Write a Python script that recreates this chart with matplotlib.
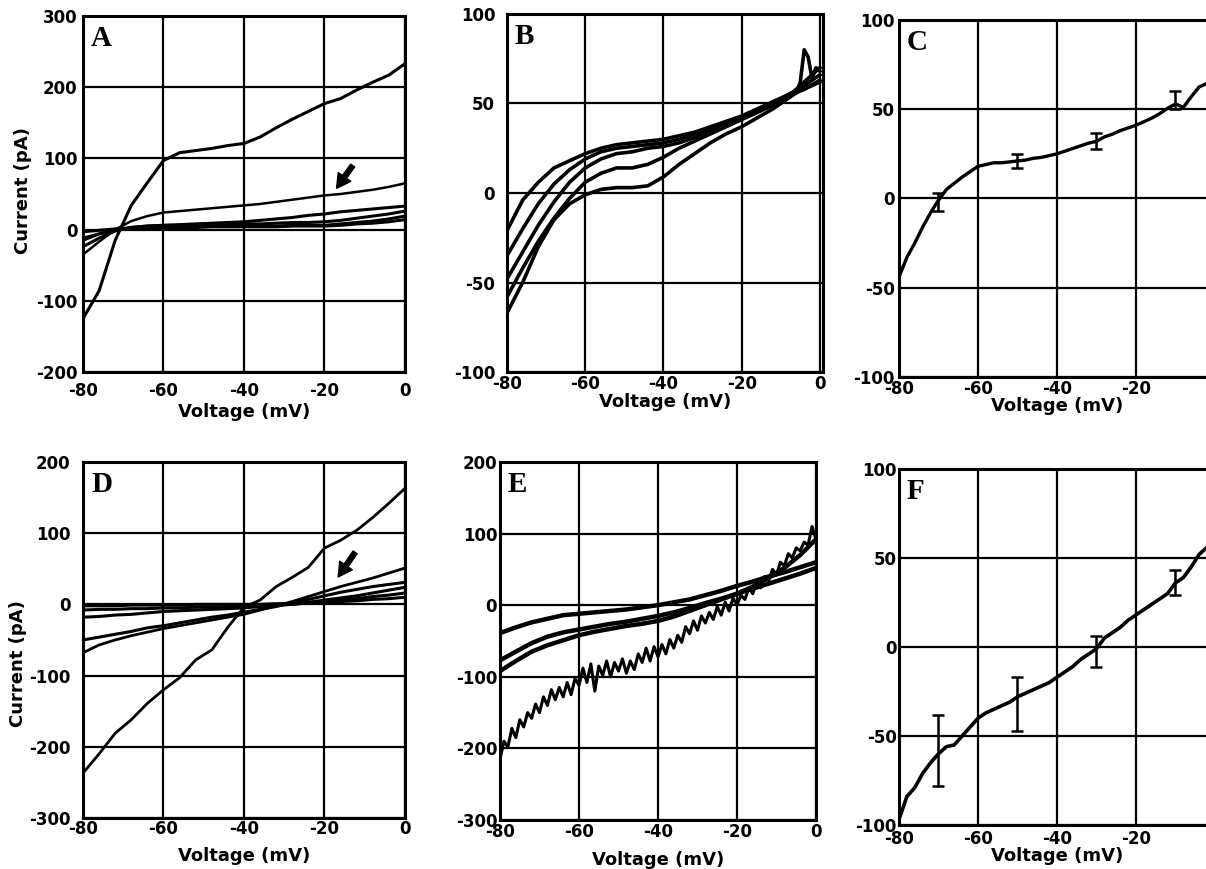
import matplotlib
matplotlib.use('Agg')
import matplotlib.pyplot as plt

plt.rcParams['font.family'] = ['DejaVu Sans']
plt.rcParams['font.weight'] = 'bold'
plt.rcParams['axes.labelweight'] = 'bold'
plt.rcParams['axes.unicode_minus'] = False

# voltage samples (mV)
v4 = [-80, -76, -72, -68, -64, -60, -56, -52, -48, -44, -40,
      -36, -32, -28, -24, -20, -16, -12, -8, -4, 0]
v2 = [-80, -78, -76, -74, -72, -70, -68, -66, -64, -62, -60, -58, -56, -54,
      -52, -50, -48, -46, -44, -42, -40, -38, -36, -34, -32, -30, -28, -26,
      -24, -22, -20, -18, -16, -14, -12, -10, -8, -6, -4, -2, 0]
v1 = [-80, -79, -78, -77, -76, -75, -74, -73, -72, -71, -70, -69, -68, -67,
      -66, -65, -64, -63, -62, -61, -60, -59, -58, -57, -56, -55, -54, -53,
      -52, -51, -50, -49, -48, -47, -46, -45, -44, -43, -42, -41, -40, -39,
      -38, -37, -36, -35, -34, -33, -32, -31, -30, -29, -28, -27, -26, -25,
      -24, -23, -22, -21, -20, -19, -18, -17, -16, -15, -14, -13, -12, -11,
      -10, -9, -8, -7, -6, -5, -4, -3, -2, -1, 0]
volt_ticks = [-80, -60, -40, -20, 0]
volt_labels = ['-80', '-60', '-40', '-20', '0']
volt_labels_cut = ['-80', '-60', '-40', '-20', '']

# A: currents (pA) on v4
a_big = [-125, -86, -15, 34, 66, 97, 108, 111, 114, 118, 121,
         130, 143, 155, 166, 177, 184, 196, 207, 217, 233]
a_arrow = [-35, -17, 0, 12, 19, 24, 26, 28, 30, 32, 34,
           36, 39, 42, 45, 48, 50, 53, 56, 60, 65]
a_3 = [-15, -6, 0, 3, 5, 6, 7, 8, 9, 10, 11,
       13, 15, 17, 20, 22, 25, 27, 29, 31, 33]
a_4 = [-24, -12, -2, 3, 5, 6, 6, 7, 7, 7, 8,
       8, 9, 10, 10, 11, 13, 16, 19, 22, 26]
a_5 = [-12, -6, -1, 2, 3, 4, 4, 4, 5, 5, 5,
       5, 5, 6, 6, 6, 8, 10, 12, 15, 19]
a_6 = [-3, -1, 1, 2, 3, 3, 3, 3, 4, 4, 4,
       4, 4, 5, 5, 5, 6, 8, 9, 11, 14]

# B: currents (pA) on v4
b_1 = [-21, -4, 6, 14, 18, 22, 25, 27, 28, 29, 30,
       32, 34, 37, 40, 43, 47, 51, 55, 58, 62]
b_2 = [-35, -20, -6, 5, 13, 19, 23, 25, 26, 27, 28,
       30, 33, 36, 39, 42, 46, 50, 54, 58, 63]
b_3 = [-48, -33, -18, -5, 6, 14, 19, 22, 23, 25, 26,
       28, 31, 35, 39, 42, 46, 50, 55, 60, 66]
b_4 = [-58, -42, -27, -14, -3, 6, 11, 14, 14, 16, 20,
       25, 29, 33, 37, 41, 45, 49, 54, 62, 70]
b_5_v = [-80, -76, -72, -68, -64, -60, -56, -52, -48, -44, -40, -36, -32,
         -28, -24, -20, -16, -12, -8, -6, -5, -4, -3, -2, -1, 0]
b_5 = [-67, -50, -30, -15, -6, -1, 2, 3, 3, 4, 9, 16, 22,
       28, 33, 37, 42, 47, 53, 56, 62, 80, 76, 64, 70, 68]

# C: mean current (pA) on v2
c_mean = [-44, -33, -25, -16, -8, -1, 5, 8.5, 12, 15, 18, 19, 20, 20,
          20.5, 21, 21.5, 22.5, 23, 24, 25, 26.5, 28, 29.5, 31, 32, 34.5, 36,
          38, 39.5, 41, 43, 45, 47.5, 50.5, 53, 51, 57, 62.5, 64.5, 66]
c_err_v = [-70, -50, -30, -10]
c_err_i = [-2, 21, 32, 55]
c_err = [5, 4, 4.5, 5]

# D: currents (pA) on v4
d_big = [-237, -210, -181, -162, -139, -120, -103, -78, -64, -32, -4,
         6, 25, 38, 52, 79, 90, 104, 122, 142, 163]
d_arrow = [-68, -57, -50, -44, -39, -34, -30, -26, -22, -18, -14,
           -8, -2, 4, 11, 18, 25, 31, 37, 44, 51]
d_3 = [-50, -46, -42, -38, -33, -30, -26, -22, -18, -15, -11,
       -7, -3, 2, 7, 12, 17, 21, 25, 28, 31]
d_4 = [-18, -17, -15, -14, -12, -10, -9, -8, -7, -6, -5,
       -3, -1, 0, 3, 6, 9, 12, 16, 20, 24]
d_5 = [-8, -7, -7, -6, -6, -5, -5, -4, -4, -3, -3,
       -2, -1, 0, 2, 4, 6, 8, 11, 13, 16]
d_6 = [-2, -2, -2, -1, -1, -1, -1, 0, 0, 0, 0,
       0, 1, 1, 2, 3, 4, 5, 7, 8, 10]

# E: noisy trace on v1, others on v4
e_big = [-215, -190, -198, -172, -185, -160, -170, -150, -158, -138,
         -150, -128, -140, -118, -132, -115, -128, -108, -125, -102,
         -112, -88, -108, -82, -120, -85, -98, -78, -100, -80,
         -92, -75, -95, -78, -90, -68, -80, -60, -78, -58,
         -72, -55, -68, -48, -60, -42, -52, -30, -40, -22,
         -35, -15, -25, -10, -20, -2, -14, 4, -8, 10,
         0, 14, 8, 24, 16, 32, 24, 40, 34, 50,
         42, 60, 55, 72, 66, 80, 76, 88, 84, 110, 92]
e_1 = [-39, -31, -24, -19, -14, -12, -10, -8, -6, -3, 0,
       4, 8, 14, 20, 27, 33, 40, 46, 53, 60]
e_2 = [-77, -65, -53, -44, -38, -34, -30, -26, -23, -19, -15,
       -10, -4, 3, 9, 16, 23, 30, 37, 44, 52]
e_3 = [-92, -78, -65, -56, -49, -42, -37, -33, -29, -26, -22,
       -16, -8, 0, 8, 16, 26, 38, 52, 70, 92]

# F: mean current (pA) on v2
f_mean = [-97, -84, -79, -71, -65, -60, -56, -55, -50, -45, -40, -37, -35,
          -33, -31, -28, -26, -24, -22, -20, -17, -14, -11, -7, -4, -1, 5, 8,
          11, 15, 18, 21, 24, 27, 30, 36, 39, 45, 52, 56, 60]
f_err_v = [-70, -50, -30, -10]
f_err_i = [-58, -32, -2.5, 36]
f_err = [20, 15, 8.5, 7]


def setup(ax, ylim, yticks, letter, xpad, ypad, xlab_y, xmax=0, xlabels=volt_labels):
    ax.set_xlim(-80, xmax)
    ax.set_ylim(*ylim)
    ax.set_xticks(volt_ticks)
    ax.set_xticklabels(xlabels)
    ax.set_yticks(yticks)
    ax.grid(True, color='black', linewidth=1.6)
    ax.tick_params(length=0, labelsize=12)
    ax.tick_params(axis='x', pad=xpad)
    ax.tick_params(axis='y', pad=ypad)
    for sp in ax.spines.values():
        sp.set_linewidth(2.2)
    ax.set_xlabel('Voltage (mV)', fontsize=13)
    ax.xaxis.set_label_coords(0.5, xlab_y)
    ax.text(0.025, 0.975, letter, transform=ax.transAxes, va='top',
            ha='left', family='Liberation Serif', weight='bold', fontsize=21)


fig = plt.figure(figsize=(12.06, 8.69), dpi=100)

axA = fig.add_axes([0.0688, 0.5719, 0.2670, 0.4097])
axB = fig.add_axes([0.4204, 0.5719, 0.2620, 0.4120])
axC = fig.add_axes([0.7454, 0.5662, 0.2620, 0.4108])
axD = fig.add_axes([0.0688, 0.0587, 0.2670, 0.4097])
axE = fig.add_axes([0.4146, 0.0564, 0.2620, 0.4120])
axF = fig.add_axes([0.7454, 0.0506, 0.2620, 0.4097])

# A
for tr in [a_6, a_5, a_4, a_3]:
    axA.plot(v4, tr, color='black', lw=2.2)
axA.plot(v4, a_arrow, color='black', lw=1.8)
axA.plot(v4, a_big, color='black', lw=2.2)
axA.annotate('', xy=(-17, 58), xytext=(-13, 90),
             arrowprops=dict(facecolor='black', edgecolor='black', width=3.5,
                             headwidth=11, headlength=10, shrink=0))
setup(axA, (-200, 300), [-200, -100, 0, 100, 200, 300], 'A', 7, 4, -0.087)
axA.set_ylabel('Current (pA)', fontsize=13)
axA.yaxis.set_label_coords(-0.158, 0.511)

# B
for tr in [b_1, b_2, b_3, b_4]:
    axB.plot(v4, tr, color='black', lw=2.6)
axB.plot(b_5_v, b_5, color='black', lw=2.6)
setup(axB, (-100, 100), [-100, -50, 0, 50, 100], 'B', 2, 8.5, -0.059, xmax=0.8)

# C
axC.plot(v2, c_mean, color='black', lw=2.4)
axC.errorbar(c_err_v, c_err_i, yerr=c_err, fmt='none', ecolor='black',
             elinewidth=1.8, capsize=4, capthick=1.8)
setup(axC, (-100, 100), [-100, -50, 0, 50, 100], 'C', 2, 3, -0.056,
      xlabels=volt_labels_cut)

# D
for tr in [d_6, d_5, d_4, d_3]:
    axD.plot(v4, tr, color='black', lw=2.2)
axD.plot(v4, d_arrow, color='black', lw=2.0)
axD.plot(v4, d_big, color='black', lw=2.0)
axD.annotate('', xy=(-16.6, 38.5), xytext=(-12.4, 73),
             arrowprops=dict(facecolor='black', edgecolor='black', width=3.5,
                             headwidth=11, headlength=10, shrink=0))
setup(axD, (-300, 200), [-300, -200, -100, 0, 100, 200], 'D', 1.5, 9, -0.081)
axD.set_ylabel('Current (pA)', fontsize=13)
axD.yaxis.set_label_coords(-0.174, 0.435)

# E
for tr in [e_1, e_2, e_3]:
    axE.plot(v4, tr, color='black', lw=3.2)
axE.plot(v1, e_big, color='black', lw=2.2)
setup(axE, (-300, 200), [-300, -200, -100, 0, 100, 200], 'E', 2, 2, -0.087)

# F
axF.plot(v2, f_mean, color='black', lw=2.6)
axF.errorbar(f_err_v, f_err_i, yerr=f_err, fmt='none', ecolor='black',
             elinewidth=1.8, capsize=4, capthick=1.8)
setup(axF, (-100, 100), [-100, -50, 0, 50, 100], 'F', 3.5, 1.5, -0.062,
      xlabels=volt_labels_cut)

fig.savefig('out.png', dpi=100)
